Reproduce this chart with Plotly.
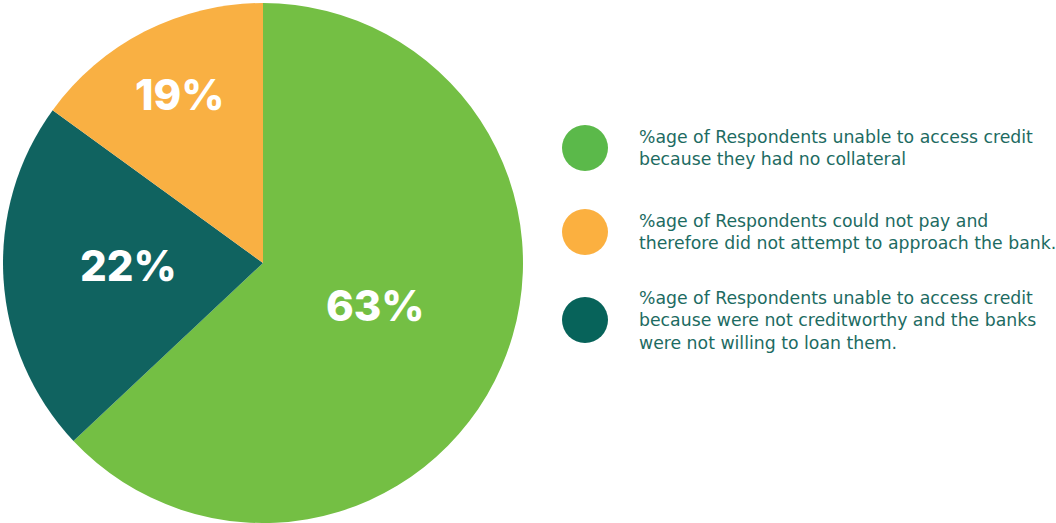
import math
import plotly.graph_objects as go

# Data
categories = [
    "%age of Respondents unable to access credit<br>because they had no collateral",
    "%age of Respondents could not pay and<br>therefore did not attempt to approach the bank.",
    "%age of Respondents unable to access credit<br>because were not creditworthy and the banks<br>were not willing to loan them.",
]
# drawn slice shares (as seen in the picture) and printed labels
slice_values = [63, 15, 22]
slice_labels = ["63%", "19%", "22%"]
pie_colors = ["#74BF44", "#F9B043", "#106360"]
legend_colors = ["#5BB94A", "#FBB040", "#07635A"]

# pie order clockwise from 12 o'clock: green, teal, orange
order = [0, 2, 1]
# label distance from centre as a fraction of radius (layout), in pie order
label_radius = [0.47, 0.52, 0.70]

W, H = 1056, 523
CX, CY, R = 263, 263, 260  # pie centre / radius in pixel-space axes

fig = go.Figure()

fig.add_trace(go.Pie(
    values=[slice_values[i] for i in order],
    labels=[categories[i] for i in order],
    textinfo="none",
    marker=dict(colors=[pie_colors[i] for i in order], line=dict(width=0)),
    sort=False,
    direction="clockwise",
    rotation=0,
    hole=0,
    showlegend=False,
    domain=dict(x=[(CX - R) / W, (CX + R) / W], y=[(H - CY - R) / H, (H - CY + R) / H]),
))

# percentage labels at the middle angle of each slice
total = sum(slice_values)
cum = 0
for k, i in enumerate(order):
    v = slice_values[i]
    mid = (cum + v / 2) / total * 2 * math.pi
    cum += v
    r = label_radius[k] * R
    fig.add_annotation(
        x=CX + r * math.sin(mid), y=CY - r * math.cos(mid), xref="x", yref="y",
        text=slice_labels[i], showarrow=False, xanchor="center", yanchor="middle",
        yshift=6,
        font=dict(family="Inter", size=42, color="white", weight=800),
    )

# custom legend
legend_y = [148, 232, 320]
fig.add_trace(go.Scatter(
    x=[585] * 3, y=legend_y, mode="markers",
    marker=dict(size=46, color=legend_colors, line=dict(width=0)),
    showlegend=False, hoverinfo="skip",
))
for cat, yy in zip(categories, legend_y):
    fig.add_annotation(
        x=637, y=yy, xref="x", yref="y", text=cat, showarrow=False,
        xanchor="left", yanchor="middle", align="left",
        font=dict(family="DejaVu Sans", size=17.3, color="#1D6B62"),
    )

fig.update_layout(
    width=W, height=H,
    margin=dict(l=0, r=0, t=0, b=0),
    paper_bgcolor="white", plot_bgcolor="white",
    xaxis=dict(range=[0, W], visible=False, fixedrange=True),
    yaxis=dict(range=[H, 0], visible=False, fixedrange=True),
)
fig.write_html("out.html")
